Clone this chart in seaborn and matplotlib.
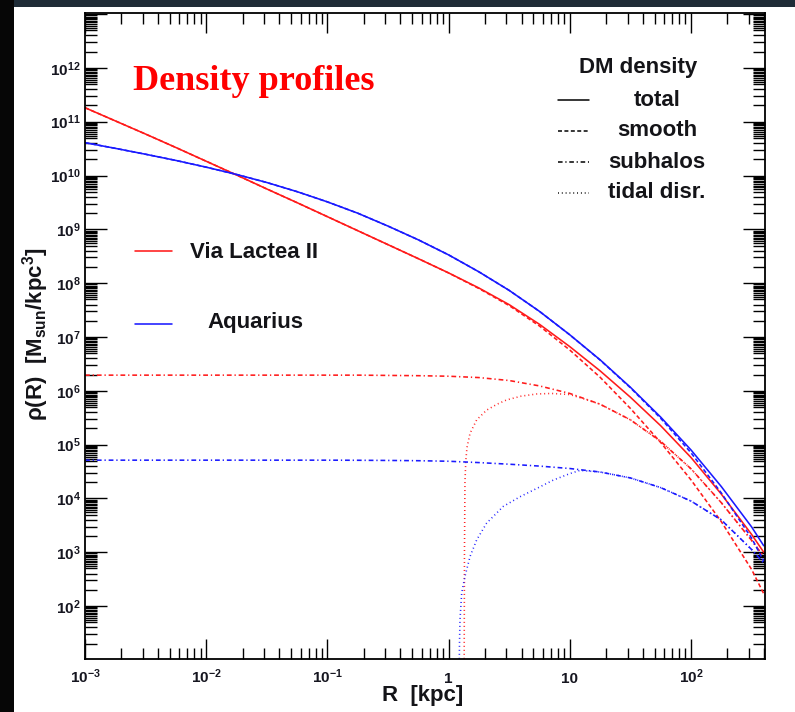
import numpy as np
import pandas as pd
import matplotlib
matplotlib.use("Agg")
import matplotlib.pyplot as plt
from matplotlib.lines import Line2D
from matplotlib.patches import Rectangle
from matplotlib.ticker import FixedLocator, LogLocator, NullFormatter
import seaborn as sns

# log10 of galactocentric radius R [kpc] shared by total / smooth / subhalo curves
log_r = [-3.0, -2.75, -2.5, -2.25, -2.0, -1.75, -1.5, -1.25, -1.0, -0.75,
         -0.5, -0.25, 0.0, 0.25, 0.5, 0.75, 1.0, 1.25, 1.5, 1.75,
         2.0, 2.25, 2.5, 2.6]

# log10 of dark-matter density [M_sun / kpc^3] -- Via Lactea II
vl2_total = [11.26, 11.015, 10.77, 10.52, 10.265, 10.01, 9.75, 9.495, 9.235, 8.975,
             8.715, 8.455, 8.19, 7.91, 7.60, 7.235, 6.82, 6.37, 5.88, 5.35,
             4.76, 4.08, 3.33, 3.00]
vl2_smooth = [11.26, 11.015, 10.77, 10.52, 10.265, 10.01, 9.75, 9.495, 9.235, 8.975,
              8.715, 8.455, 8.19, 7.90, 7.583, 7.203, 6.757, 6.251, 5.672, 5.038,
              4.344, 3.568, 2.68, 2.23]
vl2_subhalos = [6.29, 6.29, 6.29, 6.29, 6.29, 6.29, 6.29, 6.29, 6.29, 6.29,
                6.285, 6.28, 6.27, 6.245, 6.19, 6.09, 5.95, 5.75, 5.46, 5.06,
                4.55, 3.92, 3.22, 2.92]
vl2_tidal_log_r = [0.128, 0.131, 0.135, 0.142, 0.152, 0.177, 0.232, 0.314, 0.40, 0.479,
                   0.60, 0.727, 0.85, 1.0, 1.1, 1.25, 1.5, 1.75, 2.0, 2.25, 2.5, 2.6]
vl2_tidal = [0.5, 3.0, 4.3, 4.7, 4.95, 5.21, 5.46, 5.64, 5.75, 5.83,
             5.90, 5.94, 5.95, 5.93, 5.86, 5.75, 5.46, 5.06, 4.55, 3.92, 3.22, 2.92]

# log10 of dark-matter density [M_sun / kpc^3] -- Aquarius
aq_total = [10.61, 10.505, 10.395, 10.28, 10.155, 10.02, 9.87, 9.70, 9.51, 9.30,
            9.06, 8.805, 8.525, 8.21, 7.865, 7.475, 7.04, 6.575, 6.065, 5.51,
            4.90, 4.22, 3.47, 3.12]
aq_smooth = [10.61, 10.505, 10.395, 10.28, 10.155, 10.02, 9.87, 9.70, 9.51, 9.30,
             9.06, 8.805, 8.525, 8.21, 7.865, 7.475, 7.039, 6.571, 6.056, 5.488,
             4.848, 4.101, 3.262, 2.837]
aq_subhalos = [4.71, 4.71, 4.71, 4.71, 4.71, 4.71, 4.71, 4.71, 4.71, 4.708,
               4.705, 4.70, 4.69, 4.665, 4.635, 4.60, 4.555, 4.49, 4.38, 4.20,
               3.95, 3.60, 3.05, 2.80]
aq_tidal_log_r = [0.086, 0.090, 0.094, 0.108, 0.135, 0.177, 0.232, 0.314, 0.451, 0.589,
                  0.75, 0.864, 1.0, 1.084, 1.25, 1.5, 1.75, 2.0, 2.25, 2.5, 2.6]
aq_tidal = [0.5, 1.3, 1.74, 2.24, 2.55, 2.92, 3.23, 3.54, 3.85, 4.03,
            4.21, 4.34, 4.46, 4.52, 4.49, 4.38, 4.20, 3.95, 3.60, 3.05, 2.80]

halos = ["Via Lactea II", "Aquarius"]
components = ["total", "smooth", "subhalos", "tidal disr."]

x_ticks = [1e-3, 1e-2, 1e-1, 1.0, 10.0, 100.0]
x_tick_labels = [r"$10^{-3}$", r"$10^{-2}$", r"$10^{-1}$", "1", "10", r"$10^{2}$"]
y_ticks = [1e2, 1e3, 1e4, 1e5, 1e6, 1e7, 1e8, 1e9, 1e10, 1e11, 1e12, 1e13]
y_tick_labels = [r"$10^{2}$", r"$10^{3}$", r"$10^{4}$", r"$10^{5}$", r"$10^{6}$",
                 r"$10^{7}$", r"$10^{8}$", r"$10^{9}$", r"$10^{10}$", r"$10^{11}$",
                 r"$10^{12}$", ""]

# ---- long-form table -------------------------------------------------------
series = {
    ("Via Lactea II", "total"): (log_r, vl2_total),
    ("Via Lactea II", "smooth"): (log_r, vl2_smooth),
    ("Via Lactea II", "subhalos"): (log_r, vl2_subhalos),
    ("Via Lactea II", "tidal disr."): (vl2_tidal_log_r, vl2_tidal),
    ("Aquarius", "total"): (log_r, aq_total),
    ("Aquarius", "smooth"): (log_r, aq_smooth),
    ("Aquarius", "subhalos"): (log_r, aq_subhalos),
    ("Aquarius", "tidal disr."): (aq_tidal_log_r, aq_tidal),
}
frames = []
for (halo, comp), (lx, ly) in series.items():
    frames.append(pd.DataFrame({
        "R": 10.0 ** np.asarray(lx, dtype=float),
        "rho": 10.0 ** np.asarray(ly, dtype=float),
        "halo": halo,
        "component": comp,
    }))
df = pd.concat(frames, ignore_index=True)

# ---- style -----------------------------------------------------------------
sns.set_theme(style="ticks")
plt.rcParams["font.family"] = ["Liberation Sans", "DejaVu Sans"]
plt.rcParams["mathtext.fontset"] = "custom"
plt.rcParams["mathtext.rm"] = "Liberation Sans:bold"
plt.rcParams["mathtext.bf"] = "Liberation Sans:bold"
plt.rcParams["mathtext.it"] = "Liberation Sans:bold:italic"
plt.rcParams["mathtext.default"] = "rm"

palette = {"Via Lactea II": "#ff1a1a", "Aquarius": "#1a1aff"}
dash_map = {"total": "", "smooth": (2.6, 1.6),
            "subhalos": (3.0, 1.8, 0.8, 1.8), "tidal disr.": (0.6, 1.9)}

W, H = 795, 712
fig = plt.figure(figsize=(W / 100, H / 100), dpi=100)
fig.patch.set_facecolor("white")


def fx(px):
    return px / W


def fy(py):
    return 1 - py / H


# dark surround on the top and left borders
fig.add_artist(Rectangle((0, fy(7)), 1, 7 / H, transform=fig.transFigure,
                         facecolor="#1f2c37", edgecolor="none", zorder=0))
fig.add_artist(Rectangle((0, 0), fx(14), 1, transform=fig.transFigure,
                         facecolor="#060606", edgecolor="none", zorder=0))

ax = fig.add_axes([fx(85), 1 - 659 / H, fx(765) - fx(85), (659 - 13) / H])
ax.set_facecolor("white")
ax.set_xscale("log")
ax.set_yscale("log")

sns.lineplot(data=df, x="R", y="rho", hue="halo", style="component",
             hue_order=halos, style_order=components,
             palette=palette, dashes=dash_map, estimator=None,
             linewidth=1.15, legend=False, ax=ax)

ax.set_xlim(1e-3, 408)
ax.set_ylim(10 ** 1.015, 10 ** 13.02)
ax.set_xlabel("")
ax.set_ylabel("")

# ---- axes & ticks ----------------------------------------------------------
for s in ax.spines.values():
    s.set_color("black")
    s.set_linewidth(1.3)

ax.xaxis.set_major_locator(FixedLocator(x_ticks))
ax.set_xticklabels(x_tick_labels)
ax.xaxis.set_minor_locator(LogLocator(base=10, subs=np.arange(2, 10), numticks=50))
ax.xaxis.set_minor_formatter(NullFormatter())

ax.yaxis.set_major_locator(FixedLocator(y_ticks))
ax.set_yticklabels(y_tick_labels)
ax.yaxis.set_minor_locator(LogLocator(base=10, subs=[2, 3, 4, 5, 5.5, 6, 6.5, 7, 7.5, 8, 8.5, 9, 9.5],
                                      numticks=100))
ax.yaxis.set_minor_formatter(NullFormatter())

ax.tick_params(which="both", direction="in", top=True, right=True,
               color="black", width=1.0)
ax.tick_params(axis="x", which="major", length=14.5, labelsize=11, pad=17.0,
               labelcolor="#161620")
ax.tick_params(axis="x", which="minor", length=8)
ax.tick_params(axis="y", which="major", length=15.5, labelsize=11, pad=3,
               labelcolor="#161620")
ax.tick_params(axis="y", which="minor", length=8.5)
plt.setp(ax.get_xticklabels(), va="baseline", fontweight="bold")
plt.setp(ax.get_yticklabels(), fontweight="bold")

# ---- axis titles -----------------------------------------------------------
txt_col = "#141418"
fig.text(fx(423), fy(696), "R  [kpc]", ha="center", va="center",
         fontsize=16, fontweight="bold", color=txt_col)
fig.text(fx(36), fy(334), r"$\rho$(R)  [M$_{sun}$/kpc$^{3}$]", rotation=90,
         ha="center", va="center", fontsize=16, fontweight="bold", color=txt_col)

fig.text(fx(133), fy(90), "Density profiles", ha="left", va="baseline",
         fontsize=26, fontweight="bold", color="#ff0000",
         family=["Liberation Serif", "DejaVu Serif"])

# ---- halo key --------------------------------------------------------------
for halo, ky, tx, tyy in [("Via Lactea II", 251, 190, 252), ("Aquarius", 324, 207, 322)]:
    fig.add_artist(Line2D([fx(135), fx(172)], [fy(ky), fy(ky)], transform=fig.transFigure,
                          color=palette[halo], linewidth=1.15))
    fig.text(fx(tx), fy(tyy), halo, ha="left", va="center", fontsize=16,
             fontweight="bold", color=txt_col)

# ---- component key ---------------------------------------------------------
fig.text(fx(638), fy(67), "DM density", ha="center", va="center", fontsize=16,
         fontweight="bold", color=txt_col)
for comp, yy in zip(components, [100, 131, 162, 193]):
    d = dash_map[comp]
    ln = Line2D([fx(558), fx(589)], [fy(yy), fy(yy)], transform=fig.transFigure,
                color="black", linewidth=1.1)
    if d:
        ln.set_dashes(d)
    fig.add_artist(ln)
    fig.text(fx(657), fy(yy), comp, ha="center", va="center", fontsize=16,
             fontweight="bold", color=txt_col)

fig.savefig("out.png", dpi=100, facecolor=fig.get_facecolor())
